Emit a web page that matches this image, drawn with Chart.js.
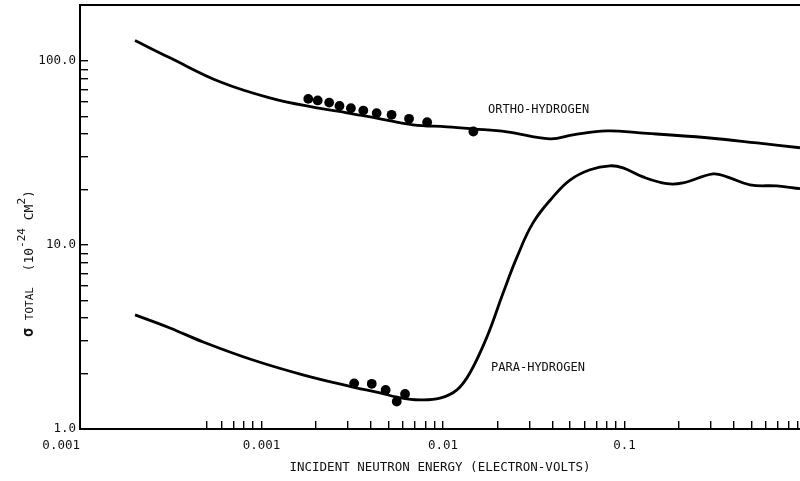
<!DOCTYPE html>
<html>
<head>
<meta charset="utf-8">
<script src="https://cdn.jsdelivr.net/npm/chart.js@4"></script>
<style>
  html, body { margin: 0; padding: 0; background: #fff; }
  canvas { display: block; }
</style>
</head>
<body>
<canvas id="c" width="800" height="481"></canvas>
<script>
// ---- Data (energy in eV, cross-section in 1e-24 cm^2) ----
const orthoCurveX = [0.000201, 0.000313, 0.00059, 0.00111, 0.00202, 0.00296, 0.0045, 0.00684, 0.0105, 0.0146, 0.0225, 0.0389, 0.052, 0.080, 0.1216, 0.285, 0.537, 0.927];
const orthoCurveY = [128.9, 103.8, 76.9, 62.9, 55.5, 52.2, 48.4, 44.9, 43.8, 42.7, 41.1, 37.7, 39.6, 41.6, 40.6, 38.2, 35.8, 33.7];

const paraCurveX = [0.000201, 0.000313, 0.000477, 0.000897, 0.00169, 0.00319, 0.0045, 0.00559, 0.00746, 0.00962, 0.01194, 0.01409, 0.01746, 0.02144, 0.02559, 0.03133, 0.0404, 0.0501, 0.0646, 0.0832, 0.0982, 0.1265, 0.1714, 0.2099, 0.3077, 0.3673, 0.4909, 0.6918, 0.927];
const paraCurveY = [4.17, 3.54, 2.97, 2.37, 1.97, 1.69, 1.57, 1.49, 1.44, 1.47, 1.63, 2.02, 3.16, 5.48, 8.61, 13.17, 18.23, 22.5, 25.6, 26.9, 26.2, 23.4, 21.5, 21.7, 24.3, 23.4, 21.2, 20.9, 20.2];

const orthoDotsX = [0.00181, 0.00204, 0.00236, 0.00269, 0.00311, 0.00364, 0.00431, 0.00521, 0.00650, 0.00818, 0.0147];
const orthoDotsY = [62.1, 60.9, 59.3, 56.9, 55.3, 53.7, 52.0, 50.9, 48.4, 46.4, 41.3];

const paraDotsX = [0.00324, 0.00405, 0.00483, 0.00556, 0.00618];
const paraDotsY = [1.77, 1.76, 1.63, 1.41, 1.55];

const xTickValues = [0.0001, 0.0005, 0.0006, 0.0007, 0.0008, 0.0009,
  0.001, 0.002, 0.003, 0.004, 0.005, 0.006, 0.007, 0.008, 0.009,
  0.01, 0.02, 0.03, 0.04, 0.05, 0.06, 0.07, 0.08, 0.09,
  0.1, 0.2, 0.3, 0.4, 0.5, 0.6, 0.7, 0.8, 0.9];
const xTickLabels = {0.0001: "0.001     ", 0.001: "0.001", 0.01: "0.01", 0.1: "0.1"};

const yTickValues = [1, 2, 3, 4, 5, 6, 7, 8, 9, 10, 20, 30, 40, 50, 60, 70, 80, 90, 100];
const yTickLabels = {1: "1.0", 10: "10.0", 100: "100.0"};

const seriesNames = ["ORTHO-HYDROGEN", "PARA-HYDROGEN"];
const seriesLabelAnchors = [[0.0177, 54.2], [0.0184, 2.15]];

const xTitle = "INCIDENT NEUTRON ENERGY (ELECTRON-VOLTS)";

// ---- Build ----
const zip = (xs, ys) => xs.map((x, i) => ({x: x, y: ys[i]}));
const MONO = "'DejaVu Sans Mono', 'Liberation Mono', monospace";
const INK = '#111';

const decorPlugin = {
  id: 'decor',
  afterDraw(chart) {
    const ctx = chart.ctx;
    const a = chart.chartArea;
    const xs = chart.scales.x, ys = chart.scales.y;
    ctx.save();
    // top frame line
    ctx.strokeStyle = '#000';
    ctx.lineWidth = 2;
    ctx.beginPath();
    ctx.moveTo(a.left, a.top);
    ctx.lineTo(a.right, a.top);
    ctx.stroke();

    // series labels anchored to data coordinates
    ctx.fillStyle = INK;
    ctx.font = "12px " + MONO;
    ctx.textBaseline = 'middle';
    ctx.textAlign = 'left';
    seriesNames.forEach((n, i) => {
      const p = seriesLabelAnchors[i];
      ctx.fillText(n, xs.getPixelForValue(p[0]), ys.getPixelForValue(p[1]));
    });

    // y-axis title with sub/superscripts
    ctx.translate(33, 337);
    ctx.rotate(-Math.PI / 2);
    ctx.textBaseline = 'alphabetic';
    let x = 0;
    const piece = (t, size, rise, bold) => {
      ctx.font = (bold ? "bold " : "") + size + "px " + MONO;
      ctx.fillText(t, x, -rise);
      x += ctx.measureText(t).width;
    };
    piece("\u03c3", 15, 0, true);
    piece(" ", 13, 0);
    piece("TOTAL", 11, 0);
    piece("  (10", 13, 0);
    piece("-24", 11, 8);
    piece(" CM", 13, 0);
    piece("2", 11, 8);
    piece(")", 13, 0);
    ctx.restore();
  }
};

new Chart(document.getElementById('c'), {
  type: 'scatter',
  data: {
    datasets: [
      { label: seriesNames[0], data: zip(orthoCurveX, orthoCurveY), showLine: true, borderColor: '#000', borderWidth: 2.8, pointRadius: 0, tension: 0.4, fill: false },
      { label: seriesNames[1], data: zip(paraCurveX, paraCurveY), showLine: true, borderColor: '#000', borderWidth: 2.8, pointRadius: 0, tension: 0.4, fill: false },
      { label: 'ortho data', data: zip(orthoDotsX, orthoDotsY), showLine: false, pointRadius: 4.9, pointBackgroundColor: '#000', pointBorderWidth: 0, borderColor: '#000' },
      { label: 'para data', data: zip(paraDotsX, paraDotsY), showLine: false, pointRadius: 4.9, pointBackgroundColor: '#000', pointBorderWidth: 0, borderColor: '#000' }
    ]
  },
  options: {
    responsive: false,
    animation: false,
    devicePixelRatio: 1,
    layout: { autoPadding: false, padding: { top: 5, right: 0, left: 0, bottom: 0 } },
    plugins: { legend: { display: false }, tooltip: { enabled: false } },
    scales: {
      x: {
        type: 'logarithmic',
        position: 'bottom',
        min: 0.0001,
        max: 0.927,
        afterBuildTicks: s => { s.ticks = xTickValues.map(v => ({ value: v })); },
        afterFit: s => { s.height = 52; s.paddingLeft = 0; s.paddingRight = 0; s.paddingTop = 0; s.paddingBottom = 0; },
        ticks: {
          autoSkip: false, maxRotation: 0, minRotation: 0, padding: 17,
          color: INK, font: { family: MONO, size: 12.5 },
          callback: (v, i) => xTickLabels[xTickValues[i]] || ''
        },
        grid: { drawOnChartArea: false, drawTicks: true, tickLength: -8, color: '#000', lineWidth: 1.4 },
        border: { display: true, color: '#000', width: 2 },
        title: { display: true, text: xTitle, color: INK, font: { family: MONO, size: 12.5 }, padding: { top: 0, bottom: 6 } }
      },
      y: {
        type: 'logarithmic',
        position: 'left',
        min: 1,
        max: 201,
        afterBuildTicks: s => { s.ticks = yTickValues.map(v => ({ value: v })); },
        afterFit: s => { s.width = 80; s.paddingLeft = 0; s.paddingRight = 0; s.paddingTop = 0; s.paddingBottom = 0; },
        ticks: {
          autoSkip: false, padding: 12,
          color: INK, font: { family: MONO, size: 12.5 },
          callback: (v, i) => yTickLabels[yTickValues[i]] || ''
        },
        grid: { drawOnChartArea: false, drawTicks: true, tickLength: -8, color: '#000', lineWidth: 1.4 },
        border: { display: true, color: '#000', width: 2 }
      }
    }
  },
  plugins: [decorPlugin]
});
</script>
</body>
</html>
